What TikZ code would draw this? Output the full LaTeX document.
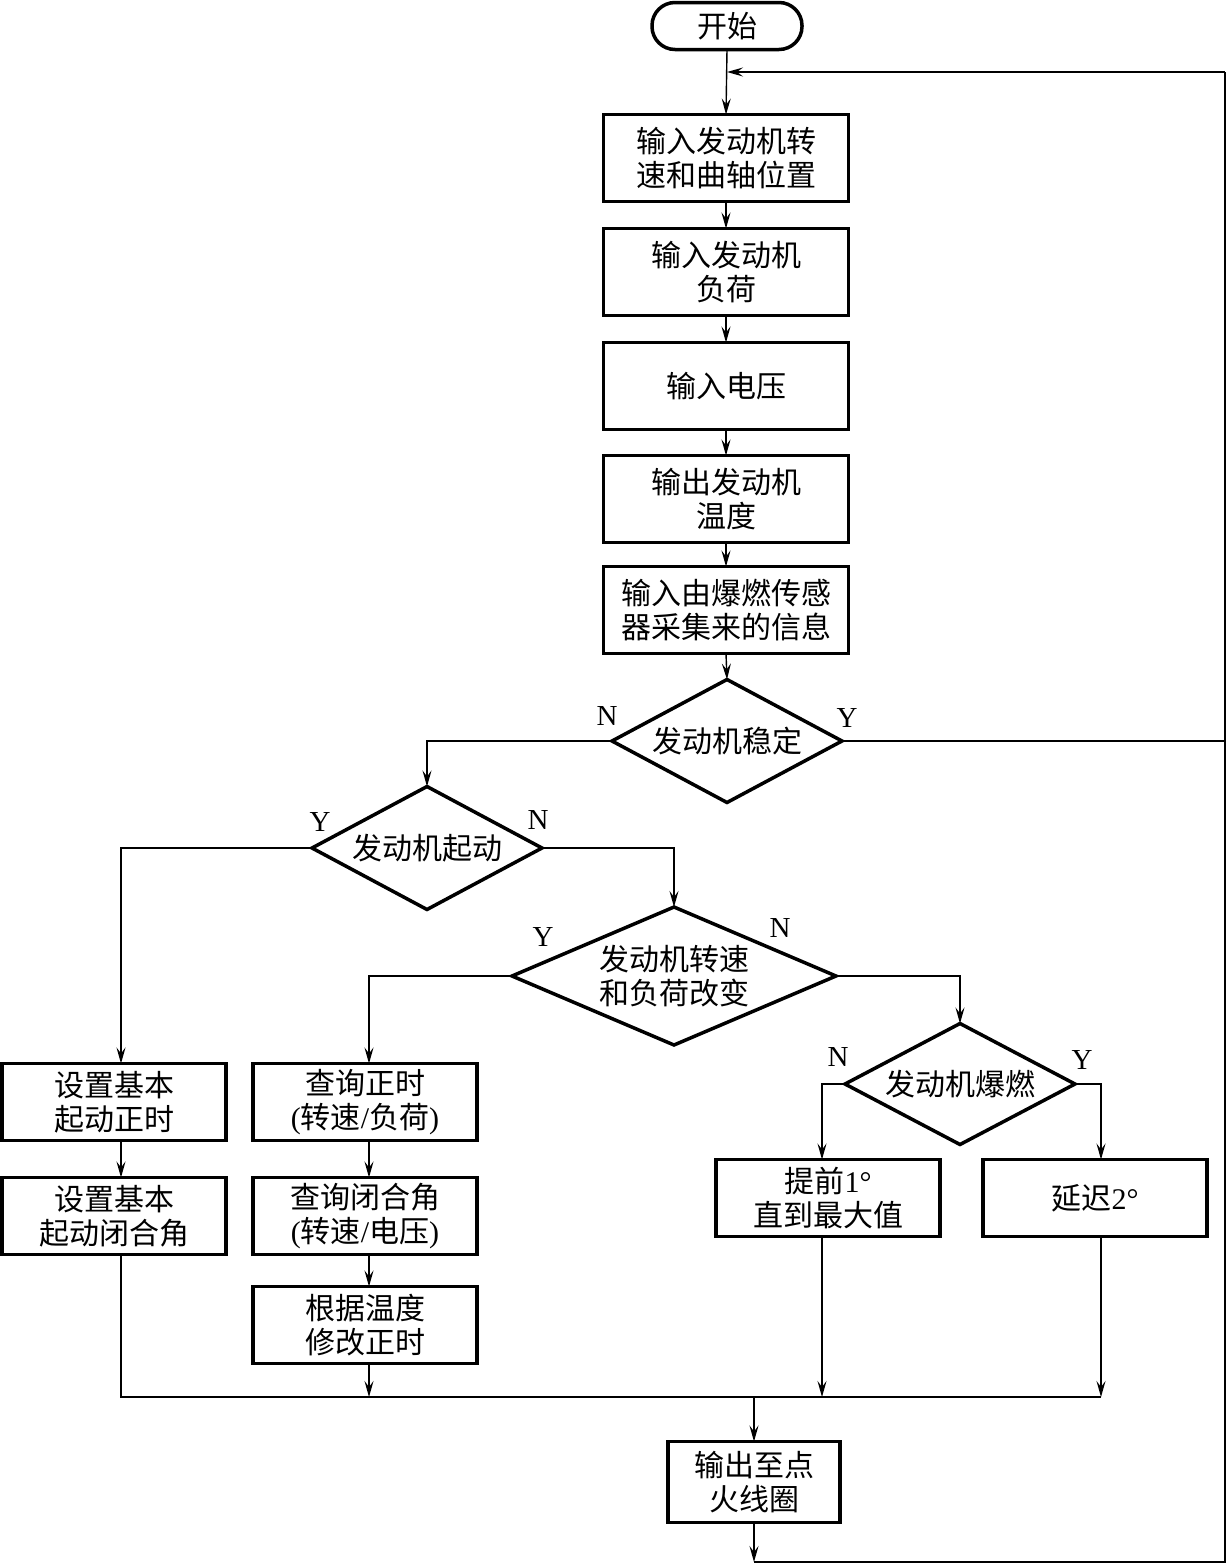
\documentclass[tikz,border=0pt]{standalone}
\usepackage{fontspec}
\setmainfont{Liberation Serif}
\newfontfamily\cjk{Noto Sans CJK SC}
\usetikzlibrary{shapes.geometric,arrows.meta}
\newcommand{\bxfont}{\cjk\fontsize{30}{34}\selectfont}
\newcommand{\rmt}[1]{{\rmfamily #1}}
\begin{document}
\begin{tikzpicture}[x=1pt,y=-1pt,
  box/.style={draw, line width=3.5pt, minimum width=245pt, minimum height=87pt, inner sep=0pt, outer sep=0pt, font=\bxfont, align=center},
  sbox/.style={draw, line width=3.5pt, minimum width=224pt, minimum height=77pt, inner sep=0pt, outer sep=0pt, font=\bxfont, align=center},
  dec/.style={diamond, draw, line width=3.5pt, inner sep=0pt, outer sep=0pt, font=\bxfont, align=center},
  term/.style={draw, line width=3.5pt, rounded corners=23pt, minimum width=150pt, minimum height=47pt, inner sep=0pt, outer sep=0pt, font=\bxfont},
  conn/.style={line width=1.4pt},
  arr/.style={conn, -{Stealth[length=16pt,width=9pt,inset=6pt]}},
  lab/.style={font=\fontsize{29}{30}\selectfont, inner sep=0pt}]
\useasboundingbox (0,0) rectangle (1228,1564);

% column coordinates
\coordinate (xL) at (121,0);
\coordinate (xM) at (369,0);
\coordinate (xR1) at (822,0);
\coordinate (xR2) at (1101,0);

\node[term] (start) at (727,26) {开始};
\node[box] (b1) at (726,158) {输入发动机转\\速和曲轴位置};
\node[box] (b2) at (726,272) {输入发动机\\负荷};
\node[box] (b3) at (726,386) {输入电压};
\node[box] (b4) at (726,499) {输出发动机\\温度};
\node[box] (b5) at (726,610) {输入由爆燃传感\\器采集来的信息};

\node[dec, minimum width=230pt, minimum height=123pt, aspect=1.87] (d1) at (727,741) {发动机稳定};
\node[dec, minimum width=230pt, minimum height=123pt, aspect=1.87] (d2) at (427,848) {发动机起动};
\node[dec, minimum width=324pt, minimum height=138pt, aspect=2.35] (d3) at (674,976) {发动机转速\\和负荷改变};
\node[dec, minimum width=230pt, minimum height=121pt, aspect=1.9] (d4) at (960,1084) {发动机爆燃};

\node[sbox] (L1) at (114,1102) {设置基本\\起动正时};
\node[sbox] (L2) at (114,1216) {设置基本\\起动闭合角};
\node[sbox] (M1) at (365,1102) {查询正时\\\rmt{(}转速\rmt{/}负荷\rmt{)}};
\node[sbox] (M2) at (365,1216) {查询闭合角\\\rmt{(}转速\rmt{/}电压\rmt{)}};
\node[sbox] (M3) at (365,1325) {根据温度\\修改正时};
\node[sbox] (R1) at (828,1198) {提前\rmt{1°}\\直到最大值};
\node[sbox] (R2) at (1095,1198) {延迟\rmt{2°}};
\node[draw, line width=3.5pt, minimum width=172pt, minimum height=81pt, inner sep=0pt, outer sep=0pt, font=\bxfont, align=center] (out) at (754,1482) {输出至点\\火线圈};

% labels
\node[lab] (n1) at (607,716) {N};
\node[lab] (y1) at (847,718) {Y};
\node[lab] (y2) at (320,822) {Y};
\node[lab] (n2) at (538,820) {N};
\node[lab] (y3) at (543,937) {Y};
\node[lab] (n3) at (780,928) {N};
\node[lab] (n4) at (838,1057) {N};
\node[lab] (y4) at (1082,1060) {Y};

% junction coordinates
\coordinate (jL) at (121,1397);
\coordinate (jM) at (369,1397);
\coordinate (jO) at (754,1397);
\coordinate (jR1) at (822,1397);
\coordinate (jR2) at (1101,1397);
\coordinate (bot) at (754,1562);
\coordinate (rt) at (1225,72);

% main column
\draw[arr] (start.south) -- (b1.north);
\draw[arr] (b1) -- (b2);
\draw[arr] (b2) -- (b3);
\draw[arr] (b3) -- (b4);
\draw[arr] (b4) -- (b5);
\draw[arr] (b5.south) -- (d1.north);

% branches
\draw[arr] (d1.west) -| (d2.north);
\draw[conn] (d1.east) -- (d1.east -| rt);
\draw[arr] (d2.west) -| (L1.north -| xL);
\draw[arr] (d2.east) -| (d3.north);
\draw[arr] (d3.west) -| (M1.north -| xM);
\draw[arr] (d3.east) -| (d4.north);
\draw[arr] (d4.west) -| (R1.north -| xR1);
\draw[arr] (d4.east) -| (R2.north -| xR2);

\draw[arr] (L1.south -| xL) -- (L2.north -| xL);
\draw[arr] (M1.south -| xM) -- (M2.north -| xM);
\draw[arr] (M2.south -| xM) -- (M3.north -| xM);

% collector
\draw[conn] (L2.south -| xL) -- (jL) -- (jR2);
\draw[arr] (M3.south -| xM) -- (jM);
\draw[arr] (R1.south -| xR1) -- (jR1);
\draw[arr] (R2.south -| xR2) -- (jR2);
\draw[arr] (jO) -- (out.north);

% loop back
\draw[arr] (out.south) -- (bot);
\draw[conn] (bot) -| (rt);
\draw[arr] (rt) -- (rt -| start);
\end{tikzpicture}
\end{document}
